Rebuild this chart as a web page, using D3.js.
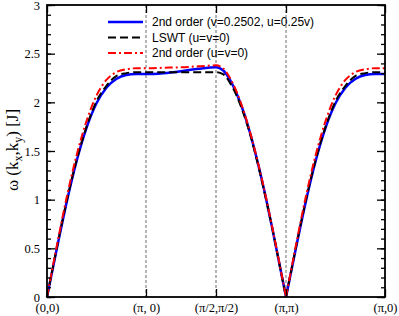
<!DOCTYPE html>
<html lang="en">
<head>
<meta charset="utf-8">
<title>Dispersion</title>
<script src="https://cdn.jsdelivr.net/npm/d3@7"></script>
<style>
  body { margin: 0; background: #fff; }
  .tick text { font-family: "Liberation Serif", "Times New Roman", serif; font-size: 12.5px; fill: #000; }
</style>
</head>
<body>
<script>
// path (0,0) -> (pi,0) -> (pi/2,pi/2) -> (pi,pi) -> (pi,0), x = distance along the path
var kLabels = ["(0,0)", "(\u03c0, 0)", "(\u03c0/2,\u03c0/2)", "(\u03c0,\u03c0)", "(\u03c0,0)"];
var kNodes = [0, Math.PI, Math.PI + Math.PI / Math.SQRT2, Math.PI + Math.SQRT2 * Math.PI, 2 * Math.PI + Math.SQRT2 * Math.PI];

// sample fractions along each segment
var seg1 = [0, .1, .2, .3, .4, .5, .6, .7, .8, .9, 1];
var seg2 = [0, .25, .5, .75, 1];
var seg3 = [0, .1, .2, .3, .4, .5, .6, .7, .8, .9, 1];
var seg4 = [0, .1, .2, .3, .4, .5, .6, .7, .8, .9, 1];

// omega values, per segment
var blue1 = [0, .50, .98, 1.40, 1.74, 1.99, 2.15, 2.24, 2.28, 2.29, 2.29];
var blue2 = [2.29, 2.30, 2.32, 2.345, 2.36];
var blue3 = [2.36, 2.33, 2.23, 2.08, 1.89, 1.65, 1.37, 1.06, .72, .36, 0];
var blue4 = [0, .50, .98, 1.40, 1.74, 1.99, 2.15, 2.24, 2.28, 2.29, 2.29];

var black1 = [0, .51, .99, 1.41, 1.75, 2.01, 2.17, 2.27, 2.30, 2.31, 2.31];
var black2 = [2.31, 2.31, 2.31, 2.31, 2.31];
var black3 = [2.31, 2.29, 2.20, 2.06, 1.87, 1.64, 1.36, 1.05, .72, .36, 0];
var black4 = [0, .51, .99, 1.41, 1.75, 2.01, 2.17, 2.27, 2.30, 2.31, 2.31];

var red1 = [0, .53, 1.03, 1.46, 1.81, 2.07, 2.23, 2.31, 2.34, 2.35, 2.35];
var red2 = [2.35, 2.355, 2.36, 2.37, 2.38];
var red3 = [2.38, 2.35, 2.25, 2.10, 1.90, 1.66, 1.38, 1.07, .73, .37, 0];
var red4 = [0, .53, 1.03, 1.46, 1.81, 2.07, 2.23, 2.31, 2.34, 2.35, 2.35];

var legendNames = ["2nd order (v=0.2502, u=0.25v)", "LSWT (u=v=0)", "2nd order (u=v=0)"];

var W = 399, H = 316;
var mL = 47, mR = 385, mT = 5, mB = 297;

var svg = d3.select("body").append("svg")
  .attr("width", W)
  .attr("height", H);

var x = d3.scaleLinear().domain([kNodes[0], kNodes[4]]).range([mL, mR]);
var y = d3.scaleLinear().domain([0, 3]).range([mB, mT]);

// build point lists: two pieces so the cusp at (pi,pi) stays sharp
function pieces(v1, v2, v3, v4) {
  var a = [], b = [];
  seg1.forEach(function (f, i) { a.push([kNodes[0] + f * (kNodes[1] - kNodes[0]), v1[i]]); });
  seg2.forEach(function (f, i) { if (i > 0) a.push([kNodes[1] + f * (kNodes[2] - kNodes[1]), v2[i]]); });
  seg3.forEach(function (f, i) { if (i > 0) a.push([kNodes[2] + f * (kNodes[3] - kNodes[2]), v3[i]]); });
  seg4.forEach(function (f, i) { b.push([kNodes[3] + f * (kNodes[4] - kNodes[3]), v4[i]]); });
  return [a, b];
}

// vertical dashed guides
svg.selectAll(".guide")
  .data(kNodes.slice(1, 4))
  .enter().append("line")
  .attr("x1", function (d) { return x(d); })
  .attr("x2", function (d) { return x(d); })
  .attr("y1", mT)
  .attr("y2", mB)
  .attr("stroke", "#444")
  .attr("stroke-width", 0.8)
  .attr("stroke-dasharray", "3,2");

var line = d3.line()
  .x(function (d) { return x(d[0]); })
  .y(function (d) { return y(d[1]); })
  .curve(d3.curveMonotoneX);

var series = [
  { p: pieces(blue1, blue2, blue3, blue4), color: "#0000ff", w: 2.5, dash: null },
  { p: pieces(black1, black2, black3, black4), color: "#000", w: 2, dash: "8,4" },
  { p: pieces(red1, red2, red3, red4), color: "#ff0000", w: 2, dash: "8,3,2,3" }
];

series.forEach(function (s) {
  s.p.forEach(function (pts) {
    svg.append("path")
      .attr("d", line(pts))
      .attr("fill", "none")
      .attr("stroke", s.color)
      .attr("stroke-width", s.w)
      .attr("stroke-dasharray", s.dash);
  });
});

// axes, ticks pointing inward
var yMajor = d3.range(0, 3.01, 0.5);
var yMinor = d3.range(0, 3.001, 0.1);

svg.append("g").attr("transform", "translate(" + mL + ",0)")
  .call(d3.axisLeft(y).tickValues(yMinor).tickSize(-4).tickFormat(""));
svg.append("g").attr("transform", "translate(" + mL + ",0)")
  .call(d3.axisLeft(y).tickValues(yMajor).tickSize(-8).tickPadding(7).tickFormat(d3.format("")));
svg.append("g").attr("transform", "translate(" + mR + ",0)")
  .call(d3.axisRight(y).tickValues(yMinor).tickSize(-4).tickFormat(""));
svg.append("g").attr("transform", "translate(" + mR + ",0)")
  .call(d3.axisRight(y).tickValues(yMajor).tickSize(-8).tickFormat(""));

svg.append("g").attr("transform", "translate(0," + mB + ")")
  .call(d3.axisBottom(x).tickValues(kNodes).tickSize(-8).tickPadding(6)
    .tickFormat(function (d, i) { return kLabels[i]; }));
svg.append("g").attr("transform", "translate(0," + mT + ")")
  .call(d3.axisTop(x).tickValues(kNodes).tickSize(-8).tickFormat(""));

svg.selectAll(".domain").remove();
svg.selectAll(".tick line").attr("stroke", "#000").attr("stroke-width", 1.3);

svg.append("rect")
  .attr("x", mL).attr("y", mT)
  .attr("width", mR - mL).attr("height", mB - mT)
  .attr("fill", "none").attr("stroke", "#000").attr("stroke-width", 1.8);

// y title
var yt = svg.append("text")
  .attr("transform", "translate(18,150) rotate(-90)")
  .attr("text-anchor", "middle")
  .style("font-family", "'Liberation Serif', serif")
  .style("font-size", "17px");
yt.append("tspan").text("\u03c9 (k");
yt.append("tspan").attr("dy", 4).style("font-size", "12px").text("x");
yt.append("tspan").attr("dy", -4).text(",k");
yt.append("tspan").attr("dy", 4).style("font-size", "12px").text("y");
yt.append("tspan").attr("dy", -4).text(") [J]");

// legend
var lg = svg.append("g");
series.forEach(function (s, i) {
  var ly = 22 + i * 15.5;
  lg.append("line")
    .attr("x1", 108).attr("x2", 143)
    .attr("y1", ly).attr("y2", ly)
    .attr("stroke", s.color).attr("stroke-width", s.w)
    .attr("stroke-dasharray", s.dash);
  lg.append("text")
    .attr("x", 152).attr("y", ly + 4)
    .style("font-family", "'Liberation Sans', Arial, sans-serif")
    .style("font-size", "12px")
    .text(legendNames[i]);
});
</script>
</body>
</html>
